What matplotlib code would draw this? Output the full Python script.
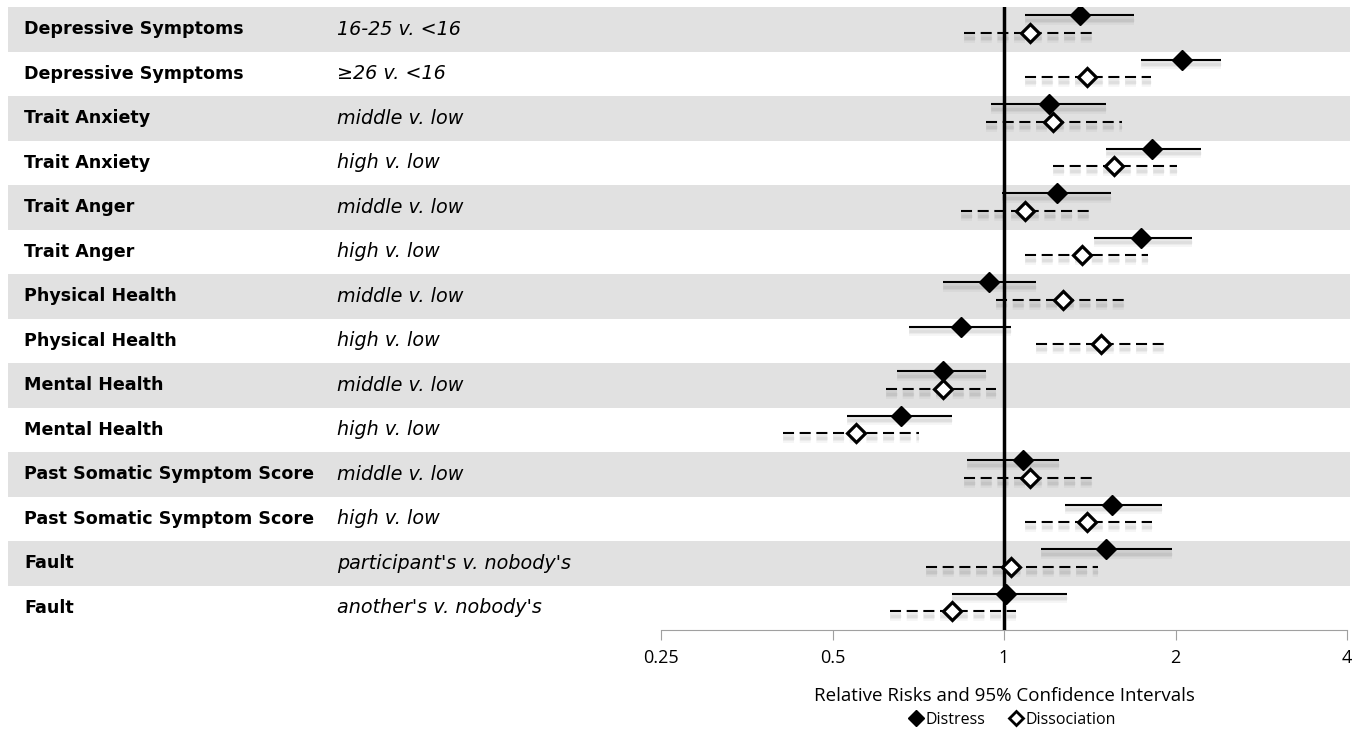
import numpy as np
import matplotlib
matplotlib.use("Agg")
import matplotlib.pyplot as plt
import matplotlib.patheffects as pe
import matplotlib.transforms as mtransforms
from matplotlib.lines import Line2D
from matplotlib.patches import Rectangle

plt.rcParams['font.family'] = ['Open Sans', 'DejaVu Sans']

# data
measures = ["Depressive Symptoms", "Depressive Symptoms", "Trait Anxiety", "Trait Anxiety",
            "Trait Anger", "Trait Anger", "Physical Health", "Physical Health",
            "Mental Health", "Mental Health", "Past Somatic Symptom Score",
            "Past Somatic Symptom Score", "Fault", "Fault"]
contrasts = ["16-25 v. <16", "\u226526 v. <16", "middle v. low", "high v. low",
             "middle v. low", "high v. low", "middle v. low", "high v. low",
             "middle v. low", "high v. low", "middle v. low", "high v. low",
             "participant's v. nobody's", "another's v. nobody's"]

distress_rr = [1.36, 2.05, 1.20, 1.82, 1.24, 1.74, 0.94, 0.84, 0.78, 0.66, 1.08, 1.55, 1.51, 1.01]
distress_lo = [1.09, 1.74, 0.95, 1.51, 0.99, 1.44, 0.78, 0.68, 0.65, 0.53, 0.86, 1.28, 1.16, 0.81]
distress_hi = [1.69, 2.40, 1.51, 2.22, 1.54, 2.14, 1.14, 1.03, 0.93, 0.81, 1.25, 1.89, 1.97, 1.29]

dissoc_rr = [1.11, 1.40, 1.22, 1.56, 1.09, 1.37, 1.27, 1.48, 0.78, 0.55, 1.11, 1.40, 1.03, 0.81]
dissoc_lo = [0.85, 1.09, 0.93, 1.22, 0.84, 1.09, 0.97, 1.14, 0.62, 0.41, 0.85, 1.09, 0.73, 0.63]
dissoc_hi = [1.43, 1.81, 1.61, 2.01, 1.41, 1.79, 1.64, 1.92, 0.97, 0.71, 1.44, 1.82, 1.46, 1.05]

xticks = [0.25, 0.5, 1, 2, 4]
xticklabels = ["0.25", "0.5", "1", "2", "4"]

fig = plt.figure(figsize=(13.65, 7.34), dpi=100)
ax = fig.add_axes([661 / 1365, 1 - 630 / 734, 686 / 1365, 623 / 734])

n = len(measures)
rows = np.arange(n)
ax.set_xscale('log', base=2)
ax.set_xlim(0.25, 4)
ax.set_ylim(n - 0.5, -0.5)

# alternating gray bands across the whole width
trans = mtransforms.blended_transform_factory(fig.transFigure, ax.transData)
for i in rows:
    if i % 2 == 0:
        ax.add_patch(Rectangle((8 / 1365, i - 0.5), (1350 - 8) / 1365, 1.0, transform=trans,
                               facecolor='#e1e1e1', edgecolor='none', clip_on=False, zorder=0))

# soft shadow under the interval lines
shadow = [pe.SimpleLineShadow(offset=(0, -3.5), shadow_color='black', alpha=0.04, linewidth=7),
          pe.SimpleLineShadow(offset=(0, -3.5), shadow_color='black', alpha=0.05, linewidth=4),
          pe.SimpleLineShadow(offset=(0, -3.5), shadow_color='black', alpha=0.04, linewidth=2),
          pe.Normal()]

y_d = rows - 0.32
y_s = rows + 0.08
ax.hlines(y_d, distress_lo, distress_hi, colors='black', linewidth=1.5, zorder=3, path_effects=shadow)
ax.hlines(y_s, dissoc_lo, dissoc_hi, colors='black', linewidth=1.5, linestyles=(0, (5.3, 2.7)),
          zorder=3, path_effects=shadow)

ax.axvline(1, color='black', linewidth=2.5, zorder=4)

ax.plot(distress_rr, y_d, linestyle='none', marker='D', markersize=10, color='black', zorder=5)
ax.plot(dissoc_rr, y_s, linestyle='none', marker='D', markersize=9, markerfacecolor='white',
        markeredgecolor='black', markeredgewidth=2.3, zorder=5)

# left-hand labels
for i in rows:
    ax.text(24 / 1365, i, measures[i], transform=trans, fontsize=12.6, fontweight='bold',
            family='DejaVu Sans', va='center', ha='left')
    ax.text(337 / 1365, i, contrasts[i], transform=trans, fontsize=13.8, style='italic',
            family='DejaVu Sans', va='center', ha='left')

for s in ['top', 'right', 'left']:
    ax.spines[s].set_visible(False)
ax.spines['bottom'].set_color('#a0a0a0')
ax.set_yticks([])
ax.set_xticks(xticks)
ax.set_xticklabels(xticklabels)
ax.minorticks_off()
ax.tick_params(axis='x', direction='out', length=7, color='#a0a0a0', labelsize=13, pad=7)
ax.set_xlabel("Relative Risks and 95% Confidence Intervals", fontsize=13.5, labelpad=14)

handles = [Line2D([], [], linestyle='none', marker='D', markersize=8, color='black'),
           Line2D([], [], linestyle='none', marker='D', markersize=7, markerfacecolor='white',
                  markeredgecolor='black', markeredgewidth=2)]
fig.legend(handles, ["Distress", "Dissociation"], loc='center', bbox_to_anchor=(1012 / 1365, 1 - 720 / 734),
           ncol=2, frameon=False, fontsize=11.5, handletextpad=0.1, columnspacing=1.4, handlelength=1)

fig.savefig("out.png", dpi=100)
